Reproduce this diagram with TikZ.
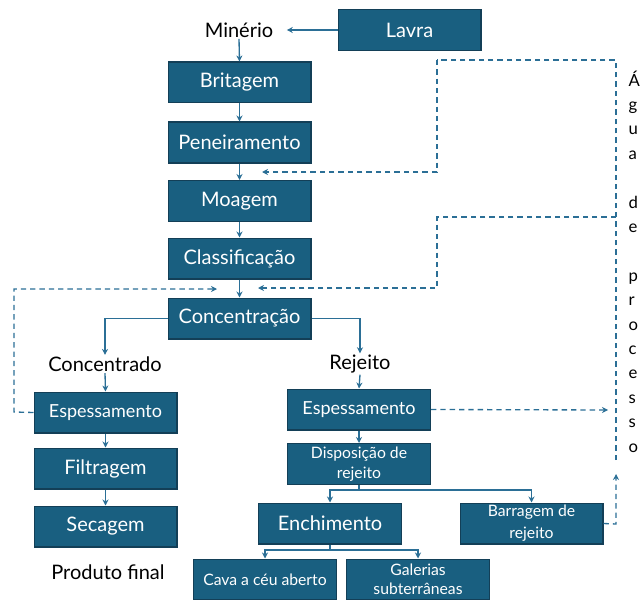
\documentclass[tikz,border=0pt]{standalone}
\usepackage{fontspec}
\setmainfont{Lato}
\usetikzlibrary{arrows.meta}
\definecolor{boxfill}{HTML}{195F80}
\definecolor{boxedge}{HTML}{133F57}
\definecolor{flow}{HTML}{2B6F96}
\tikzset{
  box/.style={draw=boxedge, line width=1pt, fill=boxfill, text=white,
    minimum width=107pt, minimum height=30.5pt, inner sep=1pt, align=center,
    font=\fontsize{15}{17}\selectfont},
  smallbox/.style={box, font=\fontsize{11.8}{14.5}\selectfont},
  midbox/.style={box, font=\fontsize{13.5}{16}\selectfont},
  lbl/.style={font=\fontsize{15}{17}\selectfont, inner sep=1pt},
  arr/.style={flow, line width=1pt, -{Stealth[length=4.5pt,width=4.5pt]}},
  ln/.style={flow, line width=1pt},
  dsh/.style={flow, line width=1pt, dash pattern=on 4pt off 3pt},
  dsharr/.style={dsh, -{Stealth[length=4.5pt,width=4.5pt]}},
}
\begin{document}
\begin{tikzpicture}[x=0.75pt, y=-0.75pt]
\useasboundingbox (0,0) rectangle (641,599);
\begin{scope}
\clip (0,0) rectangle (641,599);
% main crushing / grinding line
\node[lbl] (min) at (239,30) {Minério};
\node[box] (lavra) at (409.5,30) {Lavra};
\node[box] (brit) at (239.5,82.5) {Britagem};
\node[box] (pen) at (239.5,142.5) {Peneiramento};
\node[box] (moag) at (239.5,201) {Moagem};
\node[box] (class) at (239.5,258.5) {Classificação};
\node[box] (conc) at (239.5,318.5) {Concentração};
% concentrate branch
\node[lbl] (concd) at (105,364) {Concentrado};
\node[midbox] (espL) at (105.5,412.5) {Espessamento};
\node[box] (filt) at (105.5,468.5) {Filtragem};
\node[box] (sec) at (105.5,526.5) {Secagem};
\node[lbl] (prod) at (108,572) {Produto final};
% tailings branch
\node[lbl] (rej) at (360,364) {Rejeito};
\node[midbox] (espR) at (359,409.5) {Espessamento};
\node[smallbox] (disp) at (359,464) {Disposição de\\rejeito};
\node[box] (ench) at (330,523.5) {Enchimento};
\node[smallbox, font=\fontsize{11.8}{16.5}\selectfont] (barr) at (531.5,523.5) {Barragem de\\rejeito};
\node[smallbox] (cava) at (265,579.5) {Cava a céu aberto};
\node[smallbox] (gal) at (418,579.5) {Galerias\\subterrâneas};
% process water
\node[lbl, font=\fontsize{12.5}{18.3}\selectfont, align=left, anchor=north west] (agua) at (627,69)
  {Á\\g\\u\\a\\\mbox{}\\d\\e\\\mbox{}\\p\\r\\o\\c\\e\\s\\s\\o};

% solid flow
\draw[arr, shorten >=9pt] (lavra.west) -- (min.east);
\draw[arr] (min.south) -- (brit.north);
\draw[arr] (brit) -- (pen);
\draw[arr] (pen) -- (moag);
\draw[arr] (moag) -- (class);
\draw[arr] (class) -- (conc);
\draw[arr] (conc.west) -| (concd.north);
\draw[arr] (conc.east) -| (rej.north);
\draw[arr] (concd.south) -- (espL.north);
\draw[arr] (rej.south) -- (espR.north);
\draw[arr] (espL) -- (filt);
\draw[arr] (filt) -- (sec);
\draw[arr] (espR) -- (disp);
\coordinate (dj) at (359,490);
\draw[ln] (disp.south) -- (dj);
\draw[arr] (dj) -| (ench.north);
\draw[arr] (dj) -| (barr.north);
\coordinate (ej) at (330,550);
\draw[ln] (ench.south) -- (ej);
\draw[arr] (ej) -| (cava.north);
\draw[arr] (ej) -| (gal.north);

% water recirculation
\coordinate (wtop) at (616,60);
\coordinate (wbot) at (616,460);
\coordinate (w1a) at (437,60);
\coordinate (w1b) at (437,172);
\coordinate (r1) at (262,172);
\coordinate (w2a) at (616,217);
\coordinate (w2b) at (437,217);
\coordinate (w2c) at (437,288);
\coordinate (r2) at (258,288);
\coordinate (l1) at (14,412);
\coordinate (l2) at (14,289);
\coordinate (r3) at (217,289);
\coordinate (e1) at (608,410);
\coordinate (b1) at (616,524);
\coordinate (b2) at (616,474);
\draw[dsh] (wbot) -- (wtop) -- (w1a);
\draw[dsharr] (w1a) -- (w1b) -- (r1);
\draw[dsharr] (w2a) -- (w2b) -- (w2c) -- (r2);
\draw[dsharr] (espL.west) -- (l1) -- (l2) -- (r3);
\draw[dsharr] (espR.east) -- (e1);
\draw[dsharr] (barr.east) -- (b1) -- (b2);
\end{scope}
\end{tikzpicture}
\end{document}
